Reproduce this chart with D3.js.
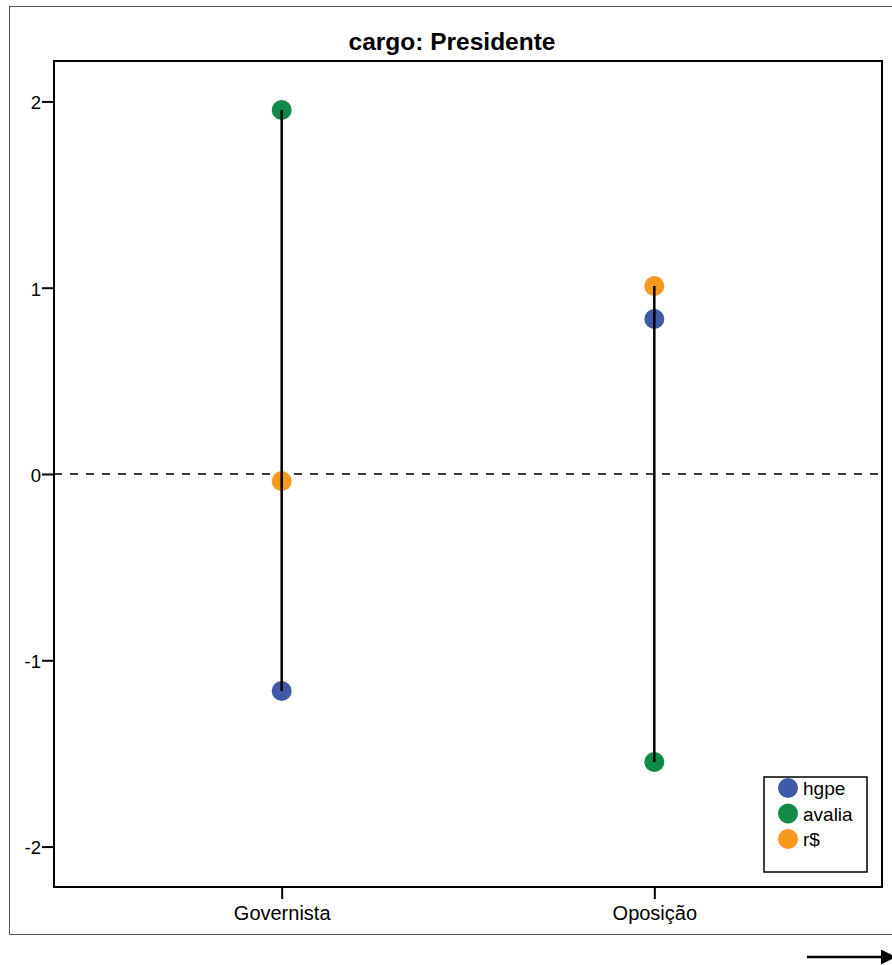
<!DOCTYPE html>
<html>
<head>
<meta charset="utf-8">
<script src="https://cdn.jsdelivr.net/npm/d3@7.9.0/dist/d3.min.js"></script>
<style>
  body { margin: 0; background: #fff; }
  svg { font-family: "Liberation Sans", Arial, sans-serif; }
</style>
</head>
<body>
<svg width="892" height="965"></svg>
<script>
// data
const groups = ['Governista', 'Oposição'];
const seriesNames = ['hgpe', 'avalia', 'r$'];
const seriesColors = ['#3f59a8', '#0f8a47', '#f7981f'];
const hgpe = [-1.165, 0.832];
const avalia = [1.954, -1.546];
const rs = [-0.038, 1.009];
const yTicks = [-2, -1, 0, 1, 2];

const series = [hgpe, avalia, rs];

const svg = d3.select('svg');
const plotL = 54, plotR = 882, plotT = 61, plotB = 887;
const fontFam = '"Liberation Sans", Arial, sans-serif';

// outer border (right side cut off in the original)
svg.append('rect')
  .attr('x', 9.5).attr('y', 6.5)
  .attr('width', 900).attr('height', 928)
  .attr('fill', 'none').attr('stroke', '#555').attr('stroke-width', 1);

let x = d3.scalePoint().domain(groups).range([plotL, plotR]).padding(0.611);
let y = d3.scaleLinear().domain([-2.217, 2.217]).range([plotB, plotT]);

// zero line
svg.append('line')
  .attr('x1', plotL).attr('x2', plotR)
  .attr('y1', y(0)).attr('y2', y(0))
  .attr('stroke', '#000').attr('stroke-width', 1.6)
  .attr('stroke-dasharray', '8,8');

// points
series.forEach((vals, si) => {
  groups.forEach((g, gi) => {
    svg.append('circle')
      .attr('cx', x(g)).attr('cy', y(vals[gi]))
      .attr('r', 10)
      .attr('fill', seriesColors[si]);
  });
});

// range lines drawn on top of the points
groups.forEach((g, gi) => {
  const vals = series.map((s) => s[gi]);
  svg.append('line')
    .attr('x1', x(g)).attr('x2', x(g))
    .attr('y1', y(d3.max(vals))).attr('y2', y(d3.min(vals)))
    .attr('stroke', '#000').attr('stroke-width', 2.5);
});

// frame
svg.append('rect')
  .attr('x', plotL).attr('y', plotT)
  .attr('width', plotR - plotL).attr('height', plotB - plotT)
  .attr('fill', 'none').attr('stroke', '#000').attr('stroke-width', 2);

// axes
const yAxis = svg.append('g')
  .attr('transform', `translate(${plotL},0)`)
  .call(d3.axisLeft(y).tickValues(yTicks).tickSize(12).tickPadding(1).tickFormat((d) => String(d)));
yAxis.select('.domain').remove();
yAxis.selectAll('line').attr('stroke-width', 2);
yAxis.selectAll('text').attr('font-size', 18.5).attr('fill', '#000')
  .attr('font-family', fontFam).attr('dy', '0.4em');

const xAxis = svg.append('g')
  .attr('transform', `translate(0,${plotB})`)
  .call(d3.axisBottom(x).tickSize(12).tickPadding(7));
xAxis.select('.domain').remove();
xAxis.selectAll('line').attr('stroke-width', 2);
xAxis.selectAll('text').attr('font-size', 20).attr('fill', '#000')
  .attr('font-family', fontFam);

// title
svg.append('text')
  .attr('x', 452).attr('y', 50)
  .attr('text-anchor', 'middle')
  .attr('font-size', 24.5).attr('font-weight', 'bold')
  .text('cargo: Presidente');

// legend
const lg = svg.append('g').attr('transform', 'translate(764,777)');
lg.append('rect')
  .attr('width', 103).attr('height', 95)
  .attr('fill', '#fff').attr('stroke', '#000').attr('stroke-width', 1.5);
seriesNames.forEach((name, i) => {
  lg.append('circle')
    .attr('cx', 24).attr('cy', 11 + i * 25.5)
    .attr('r', 10).attr('fill', seriesColors[i]);
  lg.append('text')
    .attr('x', 39).attr('y', 18 + i * 25.5)
    .attr('font-size', 19)
    .text(name);
});

// arrow bottom right
svg.append('defs').append('marker')
  .attr('id', 'arr').attr('viewBox', '0 0 10 10')
  .attr('refX', 2).attr('refY', 5)
  .attr('markerWidth', 6).attr('markerHeight', 6)
  .attr('orient', 'auto')
  .append('path').attr('d', 'M0,0L10,5L0,10Z').attr('fill', '#000');
svg.append('line')
  .attr('x1', 807).attr('x2', 884)
  .attr('y1', 957).attr('y2', 957)
  .attr('stroke', '#000').attr('stroke-width', 2.5)
  .attr('marker-end', 'url(#arr)');
</script>
</body>
</html>
